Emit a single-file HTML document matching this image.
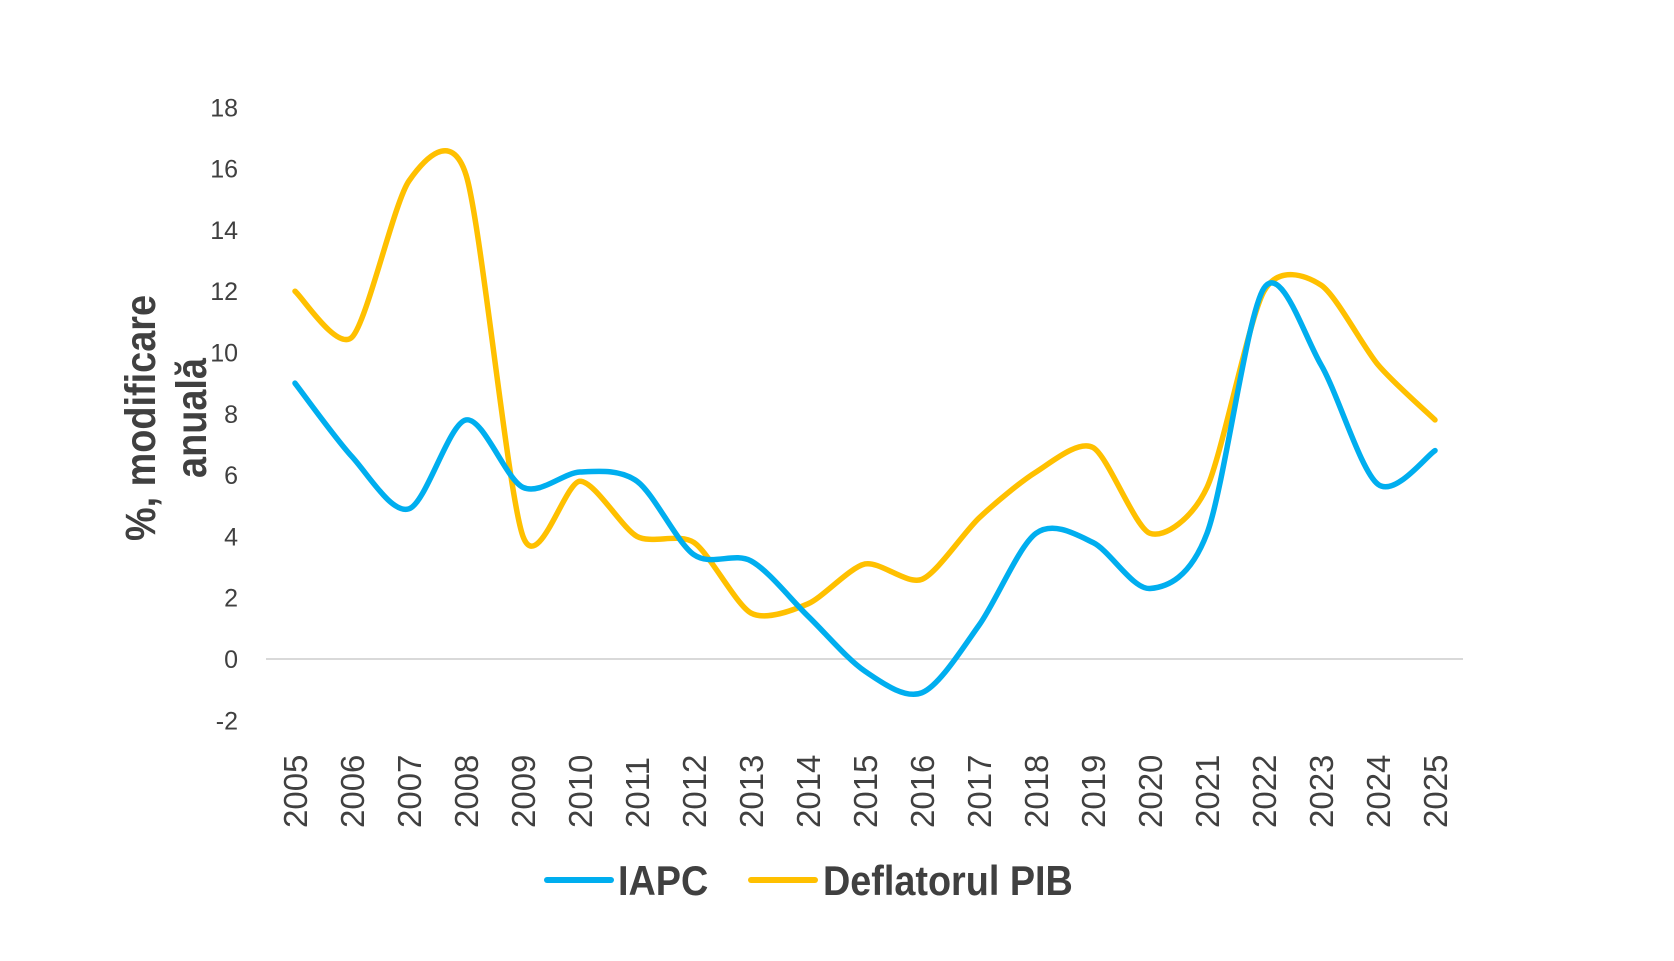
<!DOCTYPE html>
<html><head><meta charset="utf-8">
<style>
html,body{margin:0;padding:0;background:#fff;}
svg{display:block;}
</style></head>
<body>
<svg id="c" width="1674" height="961" xmlns="http://www.w3.org/2000/svg" font-family="Liberation Sans, sans-serif">
<rect width="1674" height="961" fill="#fff"/>
<line x1="266" y1="659" x2="1463" y2="659" stroke="#d9d9d9" stroke-width="2"/>
<g font-size="25" fill="#404040" text-anchor="end" id="yt"></g>
<g font-size="33" fill="#404040" id="xt"></g>
<g font-weight="bold" font-size="43" fill="#404040" text-anchor="middle">
<text transform="translate(155,418) rotate(-90) scale(0.88,1)">%, modificare</text>
<text transform="translate(206,418) rotate(-90) scale(0.88,1)">anuală</text>
</g>
<path id="pd" fill="none" stroke="#FFC000" stroke-width="5.5" stroke-linecap="round"/>
<path id="pi" fill="none" stroke="#00AEEF" stroke-width="5.5" stroke-linecap="round"/>
<line x1="547" y1="880" x2="611" y2="880" stroke="#00AEEF" stroke-width="6" stroke-linecap="round"/>
<text x="618" y="895" font-size="42" font-weight="bold" fill="#404040" transform="translate(618,0) scale(0.9,1) translate(-618,0)">IAPC</text>
<line x1="751" y1="880" x2="815" y2="880" stroke="#FFC000" stroke-width="6" stroke-linecap="round"/>
<text x="823" y="895" font-size="42" font-weight="bold" fill="#404040" transform="translate(823,0) scale(0.9,1) translate(-823,0)">Deflatorul PIB</text>
</svg>
<script>
var NS="http://www.w3.org/2000/svg";
function X(i){return 295+i*57;}
function Y(v){return 659-v*30.65;}
var yt=document.getElementById('yt');
for(var v=-2;v<=18;v+=2){var t=document.createElementNS(NS,'text');t.setAttribute('x',238);t.setAttribute('y',Y(v)+9);t.textContent=v;yt.appendChild(t);}
var xt=document.getElementById('xt');
for(var i=0;i<21;i++){var t=document.createElementNS(NS,'text');var x=X(i)+12,y=828;t.setAttribute('transform','translate('+x+','+y+') rotate(-90)');t.textContent=2005+i;xt.appendChild(t);}
var iapc=[9.0,6.6,4.9,7.8,5.6,6.1,5.8,3.4,3.2,1.4,-0.4,-1.1,1.1,4.1,3.8,2.3,4.1,12.1,9.6,5.7,6.8];
var defl=[12.0,10.5,15.6,15.8,4.0,5.8,4.0,3.8,1.5,1.8,3.1,2.6,4.6,6.1,6.9,4.1,5.6,12.0,12.2,9.6,7.8];
function path(d,k){var p=d.map(function(v,i){return [X(i),Y(v)];});var s='M'+p[0][0]+','+p[0][1];
for(var i=0;i<p.length-1;i++){var p0=p[i-1]||p[i],p1=p[i],p2=p[i+1],p3=p[i+2]||p2;
s+=' C'+(p1[0]+(p2[0]-p0[0])*k)+','+(p1[1]+(p2[1]-p0[1])*k)+' '+(p2[0]-(p3[0]-p1[0])*k)+','+(p2[1]-(p3[1]-p1[1])*k)+' '+p2[0]+','+p2[1];}
return s;}
document.getElementById('pi').setAttribute('d',path(iapc,0.15));
document.getElementById('pd').setAttribute('d',path(defl,0.13));
</script>
</body></html>
